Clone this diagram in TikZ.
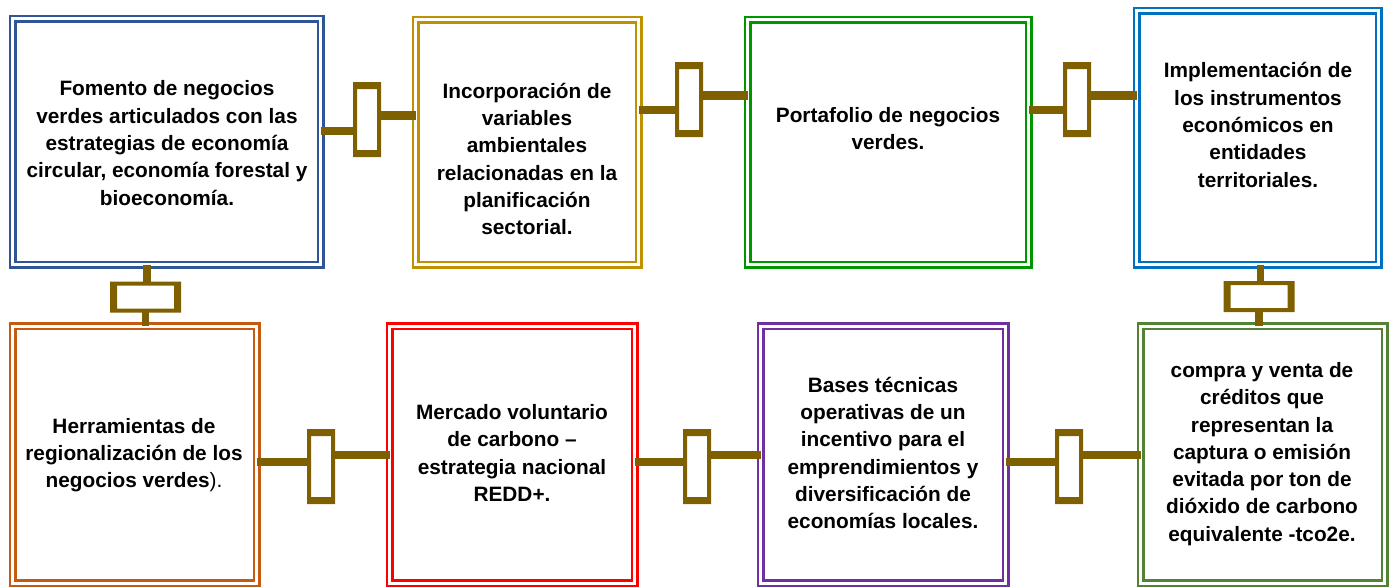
\documentclass[tikz,border=0pt]{standalone}
\usepackage{fontspec}
\setmainfont{Liberation Sans}
\definecolor{cA}{RGB}{47,85,151}
\definecolor{cB}{RGB}{191,144,0}
\definecolor{cC}{RGB}{0,150,0}
\definecolor{cD}{RGB}{0,112,192}
\definecolor{cE}{RGB}{197,90,17}
\definecolor{cF}{RGB}{255,0,0}
\definecolor{cG}{RGB}{112,48,160}
\definecolor{cH}{RGB}{84,130,53}
\definecolor{conn}{RGB}{127,96,0}
\newcommand\bracketfill[3]{\fill[conn, even odd rule] (#1.north west) rectangle (#1.south east) ([shift={(#2,#3)}]#1.north west) rectangle ([shift={(-#2,-#3)}]#1.south east);}
\begin{document}
\begin{tikzpicture}[x=1pt,y=-1pt,
  box/.style={draw=#1, double=white, line width=2.5pt, double distance=3pt, rectangle, inner sep=0pt, outer sep=0pt},
  txt/.style={align=center, font=\fontsize{20.8}{27.3}\selectfont\bfseries, inner sep=0pt},
  hstub/.style={draw=conn, line width=8.5pt},
  vstub/.style={draw=conn, line width=7.5pt},
  hbrk/.style={minimum width=28pt, minimum height=75pt, inner sep=0pt, outer sep=0pt},
  vbrk/.style={minimum width=71pt, minimum height=31pt, inner sep=0pt, outer sep=0pt}]
\useasboundingbox (0,0) rectangle (1395,587);
% boxes
\node[box=cA, minimum width=308pt, minimum height=246pt] (b1) at (166.5,141.5) {};
\node[box=cB, minimum width=223pt, minimum height=245pt] (b2) at (527,142) {};
\node[box=cC, minimum width=281pt, minimum height=245pt] (b3) at (888,142) {};
\node[box=cD, minimum width=242pt, minimum height=254pt] (b4) at (1257.5,137.5) {};
\node[box=cE, minimum width=244pt, minimum height=257pt] (b5) at (134.5,454.5) {};
\node[box=cF, minimum width=245pt, minimum height=257pt] (b6) at (512,454.5) {};
\node[box=cG, minimum width=245pt, minimum height=257pt] (b7) at (883,454.5) {};
\node[box=cH, minimum width=244pt, minimum height=257pt] (b8) at (1262.5,454.5) {};
% texts
\node[txt] (t1) at (167,143) {Fomento de negocios\\verdes articulados con las\\estrategias de economía\\circular, economía forestal y\\bioeconomía.};
\node[txt] (t2) at (527,159) {Incorporación de\\variables\\ambientales\\relacionadas en la\\planificación\\sectorial.};
\node[txt] (t3) at (888,128.5) {Portafolio de negocios\\verdes.};
\node[txt] (t4) at (1258,125) {Implementación de\\los instrumentos\\económicos en\\entidades\\territoriales.};
\node[txt] (t5) at (134,455) {Herramientas de\\regionalización de los\\negocios verdes{\mdseries).}};
\node[txt] (t6) at (512,453) {Mercado voluntario\\de carbono –\\estrategia nacional\\REDD+.};
\node[txt] (t7) at (883,453) {Bases técnicas\\operativas de un\\incentivo para el\\emprendimientos y\\diversificación de\\economías locales.};
\node[txt] (t8) at (1262,454) {compra y venta de\\créditos que\\representan la\\captura o emisión\\evitada por ton de\\dióxido de carbono\\equivalente -tco2e.};
% horizontal brackets
\node[hbrk] (k1) at (367,119.5) {};
\node[hbrk] (k2) at (689,99.5) {};
\node[hbrk] (k3) at (1077,99.5) {};
\node[hbrk] (k4) at (321,466.5) {};
\node[hbrk] (k5) at (697,466.5) {};
\node[hbrk] (k6) at (1069,466.5) {};
\bracketfill{k1}{4}{7}
\bracketfill{k2}{4}{7}
\bracketfill{k3}{4}{7}
\bracketfill{k4}{4}{7}
\bracketfill{k5}{4}{7}
\bracketfill{k6}{4}{7}
\coordinate (k1l) at (353,131);  \coordinate (k1r) at (381,115.5);
\coordinate (k2l) at (675,110);  \coordinate (k2r) at (703,95.5);
\coordinate (k3l) at (1063,110); \coordinate (k3r) at (1091,95.5);
\coordinate (k4l) at (307,462);  \coordinate (k4r) at (335,455);
\coordinate (k5l) at (683,462);  \coordinate (k5r) at (711,455);
\coordinate (k6l) at (1055,462); \coordinate (k6r) at (1083,455);
\draw[hstub] (b1.east |- k1l) -- (k1l);
\draw[hstub] (k1r) -- (k1r -| b2.west);
\draw[hstub] (b2.east |- k2l) -- (k2l);
\draw[hstub] (k2r) -- (k2r -| b3.west);
\draw[hstub] (b3.east |- k3l) -- (k3l);
\draw[hstub] (k3r) -- (k3r -| b4.west);
\draw[hstub] (b5.east |- k4l) -- (k4l);
\draw[hstub] (k4r) -- (k4r -| b6.west);
\draw[hstub] (b6.east |- k5l) -- (k5l);
\draw[hstub] (k5r) -- (k5r -| b7.west);
\draw[hstub] (b7.east |- k6l) -- (k6l);
\draw[hstub] (k6r) -- (k6r -| b8.west);
% vertical brackets
\node[vbrk] (v1) at (145.5,297) {};
\node[vbrk] (v2) at (1259,296.5) {};
\bracketfill{v1}{7}{4}
\bracketfill{v2}{7}{4}
\coordinate (v1t) at (147,282.5);  \coordinate (v1b) at (145.5,311.5);
\coordinate (v2t) at (1260.5,281.5); \coordinate (v2b) at (1259,311.5);
\draw[vstub] (v1t |- b1.south) -- (v1t);
\draw[vstub] (v1b) -- (v1b |- b5.north);
\draw[vstub] (v2t |- b4.south) -- (v2t);
\draw[vstub] (v2b) -- (v2b |- b8.north);
\end{tikzpicture}
\end{document}
